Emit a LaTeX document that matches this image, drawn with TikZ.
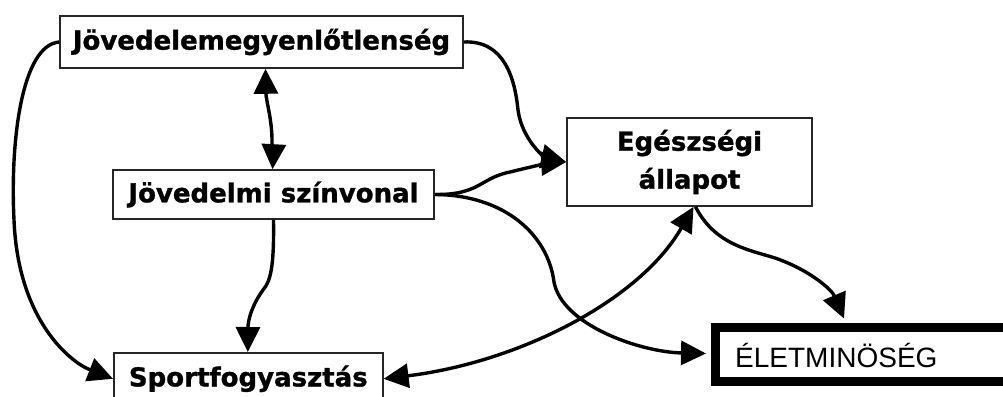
\documentclass[tikz,border=0pt]{standalone}
\usepackage{fontspec}
\setmainfont{DejaVu Sans}
\newfontfamily\heavyfont{DejaVu Sans Bold}[FakeBold=1.2]
\newfontfamily\arialfont{Liberation Sans}
\usetikzlibrary{arrows.meta,calc}
\begin{document}
\begin{tikzpicture}[x=1pt,y=-1pt,
  box/.style={draw=black!85,line width=1.6pt,fill=white,inner sep=0pt,
    font=\heavyfont\fontsize{26}{38}\selectfont,align=center},
  conn/.style={line width=3.4pt,black},
  tip/.style={-{Triangle[length=25pt,width=24pt]}},
  tips/.style={{Triangle[length=25pt,width=24pt]}-{Triangle[length=25pt,width=24pt]}}]
\useasboundingbox (0,0) rectangle (1003,396);
\fill[white] (0,0) rectangle (1003,396);
\node[box,minimum width=403pt,minimum height=52pt] (A) at (261.5,42) {Jövedelemegyenlőtlenség};
\node[box,minimum width=321pt,minimum height=49pt] (B) at (273.5,194.5) {Jövedelmi színvonal};
\node[box,minimum width=245pt,minimum height=88pt] (C) at (689.5,162) {Egészségi\\állapot};
\node[box,minimum width=269pt,minimum height=52pt,anchor=north west] (D) at (113,352) {Sportfogyasztás\strut};
\node[draw=black,line width=9pt,fill=white,minimum width=310pt,minimum height=54pt,inner sep=0pt,anchor=west] (E) at (710.5,354.5) {};
\node[font=\arialfont\fontsize{28}{30}\selectfont,anchor=west,inner sep=0pt] (Et) at (735,355) {ÉLETMINÖSÉG};
% connectors
\draw[conn,tip] (A.west) .. controls (22,45) and (10,140) .. (14,220) .. controls (18,320) and (70,362) .. (D.west);
\draw[conn,tips] ($(A.south)+(4,0)$) .. controls (266,100) and (272,120) .. (272,140) .. controls (272,150) and (273,160) .. ($(B.north)+(-1,0)$);
\draw[conn,tip] (A.east) .. controls (505,40) and (515,80) .. (518,110) .. controls (522,140) and (545,157) .. (C.west);
\draw[conn,tip] (B.east) .. controls (480,195) and (480,178) .. (510,172) .. controls (530,167) and (550,163) .. (C.west);
\draw[conn,tip] (B.east) .. controls (505,195) and (548,235) .. (554,282) .. controls (562,325) and (640,352) .. ($(E.west)+(-4.5,-1)$);
\draw[conn,tip] (B.south) .. controls (274,260) and (272,280) .. (263,290) .. controls (252,305) and (248,320) .. ($(D.north)+(-0.5,0)$);
\draw[conn,tips] (D.east) .. controls (520,362) and (640,300) .. ($(C.south)+(4,0)$);
\draw[conn,tip] ($(C.south)+(6,0)$) .. controls (715,245) and (750,250) .. (775,258) .. controls (810,270) and (832,290) .. ($(E.north)+(-26,-4.5)$);
\end{tikzpicture}
\end{document}
